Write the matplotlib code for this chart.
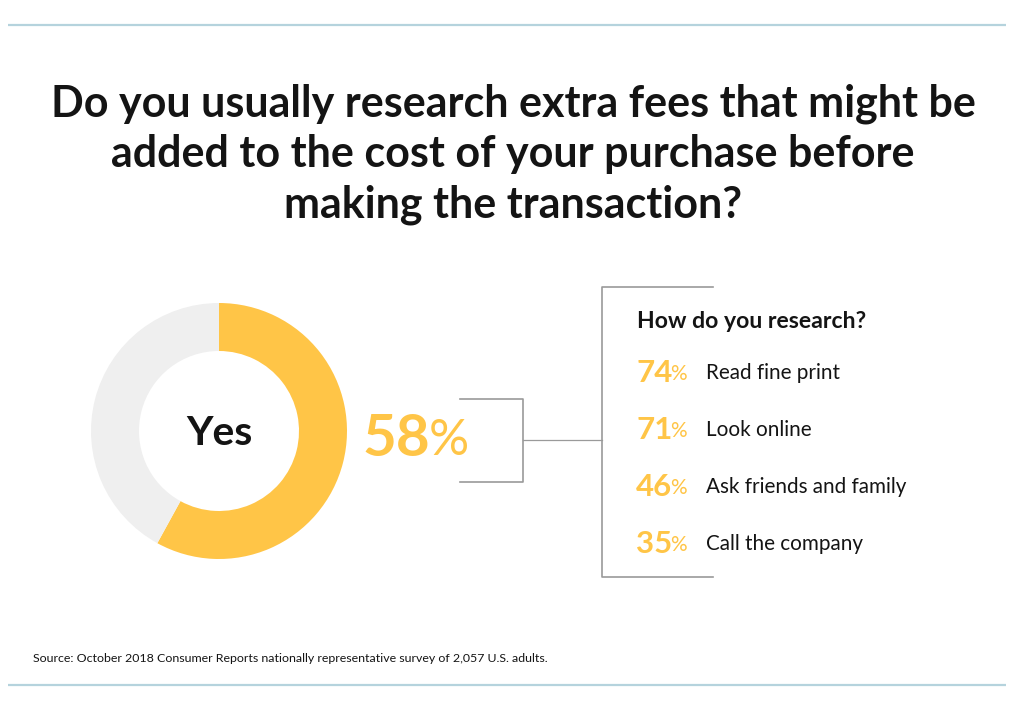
import matplotlib
matplotlib.use("Agg")
import matplotlib.pyplot as plt

title_lines = ["Do you usually research extra fees that might be",
               "added to the cost of your purchase before",
               "making the transaction?"]
donut_labels = ["Yes", "No"]
donut_values = [58, 42]
method_labels = ["Read fine print", "Look online", "Ask friends and family", "Call the company"]
method_values = [74, 71, 46, 35]
subhead = "How do you research?"
source = "Source: October 2018 Consumer Reports nationally representative survey of 2,057 U.S. adults."

YELLOW = "#FFC547"
GREY = "#EFEFEF"
DARK = "#141414"
LINE = "#9a9a9a"
RULE = "#B5D3DD"
FONT = "Lato"

W, H = 1024, 711
fig = plt.figure(figsize=(W / 100, H / 100), dpi=100)
ax = fig.add_axes([0, 0, 1, 1])
ax.set_xlim(0, W)
ax.set_ylim(H, 0)
ax.axis("off")

# rules
ax.plot([8, 1006], [25, 25], color=RULE, lw=1.6, solid_capstyle="butt")
ax.plot([8, 1006], [685, 685], color=RULE, lw=1.6, solid_capstyle="butt")

# title
for i, t in enumerate(title_lines):
    ax.text(513, 104 + i * 50.5, t, ha="center", va="center", fontsize=31,
            fontweight="bold", color=DARK, family=FONT)

# donut
cx, cy, r = 219, 431, 128
pax = fig.add_axes([(cx - r) / W, (H - cy - r) / H, 2 * r / W, 2 * r / H])
pax.pie(donut_values, colors=[YELLOW, GREY], startangle=90, counterclock=False,
        wedgeprops=dict(width=48 / 128, linewidth=0))
pax.set_xlim(-1, 1)
pax.set_ylim(-1, 1)
pax.set_aspect("equal")
pax.axis("off")
pax.text(0, -0.02, donut_labels[0], ha="center", va="center", fontsize=29.5,
         fontweight="bold", color=DARK, family=FONT)

# 58%
t58 = ax.text(362, 440, str(donut_values[0]), ha="left", va="center", fontsize=42,
              fontweight="bold", color=YELLOW, family=FONT)
fig.canvas.draw()
bb = t58.get_window_extent()
ax.text(bb.x1 - 1, 441, "%", ha="left", va="center", fontsize=36,
        fontweight="normal", color=YELLOW, family=FONT)

# brackets
ax.plot([460, 523, 523, 460], [399, 399, 482, 482], color=LINE, lw=1.2)
ax.plot([523, 602], [440, 440], color=LINE, lw=0.9)
ax.plot([713, 602, 602, 713], [287, 287, 577, 577], color=LINE, lw=1.2)

# subhead & list
ax.text(637, 322, subhead, ha="left", va="center", fontsize=16.6,
        fontweight="bold", color=DARK, family=FONT)
for i, (v, lab) in enumerate(zip(method_values, method_labels)):
    y = 373 + i * 57
    tv = ax.text(636, y, str(v), ha="left", va="center", fontsize=22.5,
                 fontweight="bold", color=YELLOW, family=FONT)
    fig.canvas.draw()
    b = tv.get_window_extent()
    ax.text(b.x1 - 2, y + 1, "%", ha="left", va="center", fontsize=15,
            color=YELLOW, family=FONT)
    ax.text(706, y, lab, ha="left", va="center", fontsize=14.9,
            color=DARK, family=FONT)

ax.text(33, 658, source, ha="left", va="center", fontsize=8.9, color=DARK, family=FONT)

fig.savefig("out.png", dpi=100)
